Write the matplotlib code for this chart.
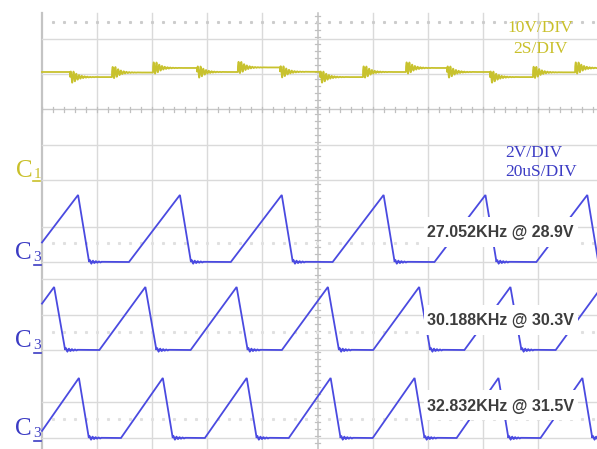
import numpy as np
import matplotlib
matplotlib.use("Agg")
import matplotlib.pyplot as plt
from matplotlib.patches import Rectangle

# ---------------- C1: supply rail, 10 V/div, 2 s/div ----------------
c1_step_times_s = [1.02, 2.54, 4.03, 5.63, 7.11, 8.64, 10.09, 11.65,
                   13.21, 14.70, 16.26, 17.82, 19.35]
c1_levels_v = [0.0, -1.45, -0.15, 1.15, 0.0, 1.3, 0.05, -1.45,
               0.0, 1.15, 0.0, -1.45, -0.1, 1.15]

# ---------------- C3: sawtooth at three supply voltages, 2 V/div, 20 us/div ----------------
c3_freq_khz = [27.052, 30.188, 32.832]
c3_supply_v = [28.9, 30.3, 31.5]
c3_first_peak_us = [13.1, 4.4, 13.4]
c3_rise_us = [18.5, 16.7, 15.2]
c3_fall_us = [4.0, 4.0, 3.6]
c3_amplitude_v = [3.83, 3.6, 3.43]

# ---------------- screen geometry (pixels) ----------------
W, H = 597, 449
X0 = 42.0            # left edge of graticule
PX_XDIV = 55.1       # horizontal division
PX_YDIV = 35.0       # vertical division
TOP = 13.0
C1_ZERO = 72.0
C3_ZERO = [262.0, 350.0, 438.0]
LABEL_Y = [232.0, 320.0, 405.0]

YEL = "#c8c22e"
YEL_TXT = "#c9c02a"
BLUE = "#4a4ae0"
BLUE_TXT = "#3c3cc4"
GRID = "#dadada"

fig = plt.figure(figsize=(W / 100, H / 100), dpi=100)
ax = fig.add_axes([0, 0, 1, 1])
ax.set_xlim(0, W)
ax.set_ylim(H, 0)
ax.axis("off")

# ---------------- graticule ----------------
for k in range(1, 10):
    x = X0 + k * PX_XDIV
    if k == 5:
        continue
    ax.plot([x, x], [TOP, H], color=GRID, lw=1.0, zorder=1)
# left border
ax.plot([X0, X0], [TOP, H], color="#c4c4c4", lw=1.6, zorder=1)
# centre vertical axis with minor ticks
xc = X0 + 5 * PX_XDIV
ax.plot([xc, xc], [TOP, H], color="#c0c0c0", lw=1.1, zorder=1)
for y in np.arange(TOP + 3, H, PX_YDIV / 5):
    ax.plot([xc - 2.5, xc + 2.5], [y, y], color="#c0c0c0", lw=0.9, zorder=1)

# solid horizontal lines
for y in [39, 74, 145, 180, 227, 262, 279, 315, 350, 402, 438]:
    ax.plot([X0, W], [y, y], color=GRID, lw=1.0, zorder=1)
# C1 centre axis with minor ticks
ax.plot([X0, W], [109, 109], color="#c8c8c8", lw=1.0, zorder=1)
for x in np.arange(X0, W, PX_XDIV / 5):
    ax.plot([x, x], [106.5, 111.5], color="#c0c0c0", lw=0.9, zorder=1)
# dotted rows
for y, c in [(22, "#cccccc"), (243, "#e0e0e0"), (332, "#e0e0e0"), (419, "#e0e0e0")]:
    xs = np.arange(X0 + PX_XDIV / 5, W, PX_XDIV / 5)
    ax.plot(xs, np.full_like(xs, y), ls="none", marker="s", ms=1.2,
            color=c, zorder=1)

# ---------------- C1 trace ----------------
t = np.linspace(0, (W - X0) / PX_XDIV * 2.0, 12000)
v = np.full_like(t, c1_levels_v[0])
edges = [0.0] + c1_step_times_s + [t[-1] + 1]
for i, lvl in enumerate(c1_levels_v):
    m = (t >= edges[i]) & (t < edges[i + 1])
    v[m] = lvl
for ts in c1_step_times_s:
    dt = t - ts
    m = (dt >= 0) & (dt < 1.2)
    env = np.where(dt[m] < 0.12, 1.0, np.exp(-(dt[m] - 0.12) / 0.2))
    v[m] += 1.6 * env * np.sin(2 * np.pi * dt[m] / 0.1)
xp = X0 + t / 2.0 * PX_XDIV
yp = C1_ZERO - v * PX_YDIV / 10.0
ax.plot(xp, yp, color=YEL, lw=1.3, zorder=3)

# ---------------- C3 traces ----------------
t_end = (W - X0) / PX_XDIV * 20.0
for i in range(3):
    period = 1000.0 / c3_freq_khz[i]
    amp = c3_amplitude_v[i]
    rise, fall = c3_rise_us[i], c3_fall_us[i]
    tt, vv = [], []
    k = -1
    while True:
        tp = c3_first_peak_us[i] + k * period
        if tp - rise > t_end + period:
            break
        tt += [tp - rise, tp, tp + fall]
        vv += [0.0, amp, 0.0]
        tr = np.linspace(tp + fall, tp + fall + 4.5, 40)
        rr = 0.12 * np.exp(-(tr - tr[0]) / 2.5) * np.sin(2 * np.pi * (tr - tr[0]) / 1.1)
        tt += list(tr[1:])
        vv += list(rr[1:])
        k += 1
    tt = np.array(tt)
    vv = np.array(vv)
    # clip at the left border
    vv0 = np.interp(0.0, tt, vv)
    keep = tt > 0
    tt = np.concatenate([[0.0], tt[keep]])
    vv = np.concatenate([[vv0], vv[keep]])
    xp = X0 + tt / 20.0 * PX_XDIV
    yp = C3_ZERO[i] - vv * PX_YDIV / 2.0
    ax.plot(xp, yp, color=BLUE, lw=1.3, zorder=3, solid_joinstyle="miter")

    # measurement label on a white card
    ly = LABEL_Y[i]
    ax.add_patch(Rectangle((424, ly - 15), 154, 30, facecolor="white",
                           edgecolor="none", zorder=4))
    ax.text(427, ly + 1, f"{c3_freq_khz[i]:.3f}KHz @ {c3_supply_v[i]}V",
            ha="left", va="center", fontsize=11.5, fontweight="bold",
            family="Liberation Sans", color="#3d3d3d", zorder=5)

    # channel marker
    base = C3_ZERO[i]
    ax.text(15, base - 3, "C", ha="left", va="baseline", fontsize=18,
            family="Liberation Serif", color=BLUE_TXT, zorder=5)
    ax.text(33.5, base - 1, "3", ha="left", va="baseline", fontsize=11,
            family="Liberation Serif", color=BLUE_TXT, zorder=5)
    ax.plot([34, 41], [base + 3, base + 3], color=BLUE_TXT, lw=1.2, zorder=5)

# C1 marker
ax.text(16, 177, "C", ha="left", va="baseline", fontsize=18,
        family="Liberation Serif", color=YEL_TXT, zorder=5)
ax.text(33.5, 178, "1", ha="left", va="baseline", fontsize=11,
        family="Liberation Serif", color=YEL_TXT, zorder=5)
ax.plot([33, 40], [181, 181], color=YEL_TXT, lw=1.2, zorder=5)

# scale annotations
ax.text(540, 28, "10V/DIV", ha="center", va="center", fontsize=12.5,
        family="Liberation Serif", color=YEL_TXT, zorder=5)
ax.text(540, 49, "2S/DIV", ha="center", va="center", fontsize=12.5,
        family="Liberation Serif", color=YEL_TXT, zorder=5)
ax.text(505, 153, "2V/DIV", ha="left", va="center", fontsize=12.5,
        family="Liberation Serif", color=BLUE_TXT, zorder=5)
ax.text(505, 172, "20uS/DIV", ha="left", va="center", fontsize=12.5,
        family="Liberation Serif", color=BLUE_TXT, zorder=5)

fig.savefig("out.png", dpi=100, facecolor="white")
